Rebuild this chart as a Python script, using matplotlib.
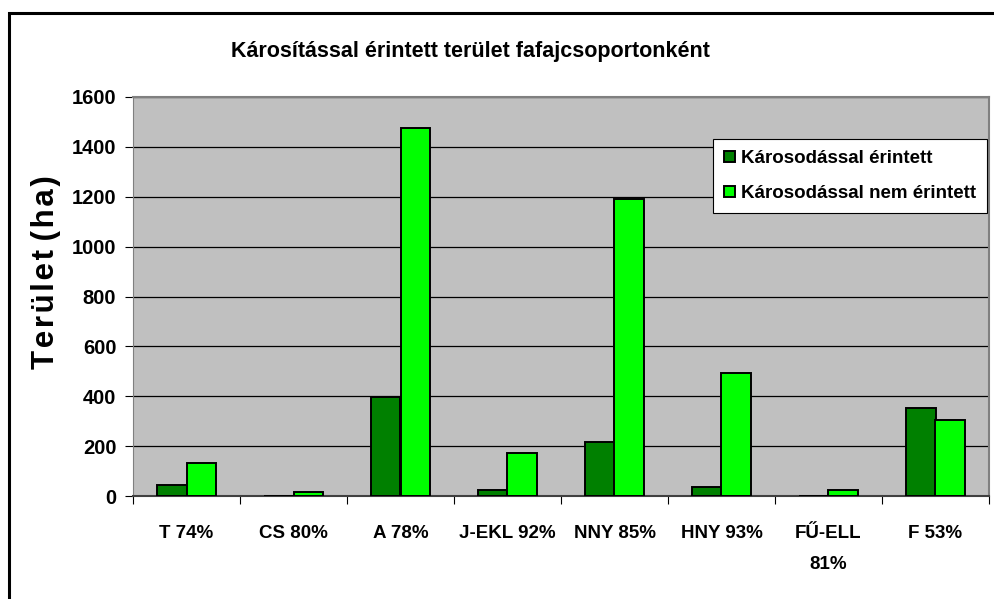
import numpy as np
import matplotlib.pyplot as plt
from matplotlib.patches import Rectangle

plt.rcParams['font.family'] = ['Liberation Sans', 'DejaVu Sans']
plt.rcParams['font.weight'] = 'bold'

categories = ['T 74%', 'CS 80%', 'A 78%', 'J-EKL 92%', 'NNY 85%', 'HNY 93%', 'FŰ-ELL\n81%', 'F 53%']
erintett = [46, 0, 397, 23, 218, 38, 0, 352]
nem_erintett = [134, 15, 1475, 172, 1190, 492, 24, 305]

W, H = 994, 599
fig = plt.figure(figsize=(W / 100, H / 100), dpi=100)
ax = fig.add_axes([133 / W, 1 - 496 / H, (989 - 133) / W, (496 - 97) / H])

# outer chart frame (cut off at right and bottom)
fig.patches.append(Rectangle((9 / W, -0.1), 1.2, 1 - 13 / H + 0.1, transform=fig.transFigure,
                             fill=False, edgecolor='black', linewidth=2.2))

x = np.arange(len(categories))
bw = 0.28
ax.set_facecolor('#C0C0C0')
ax.bar(x - bw / 2, erintett, bw, color='#008000', edgecolor='black', linewidth=1.4,
       label='Károsodással érintett', zorder=3)
ax.bar(x + bw / 2, nem_erintett, bw, color='#00FF00', edgecolor='black', linewidth=1.4,
       label='Károsodással nem érintett', zorder=3)

ax.set_xlim(-0.5, len(categories) - 0.5)
ax.set_ylim(0, 1600)
ax.set_yticks(range(0, 1601, 200))
ax.yaxis.grid(True, color='black', linewidth=0.9, zorder=1)
ax.set_xticks(np.arange(len(categories) + 1) - 0.5, minor=False)
ax.set_xticklabels([])
ax.set_xticks(x, minor=True)
ax.set_xticklabels(categories, minor=True, fontsize=13.5, fontweight='bold', linespacing=2.05)
ax.tick_params(axis='x', which='minor', length=0, pad=21)
ax.tick_params(axis='x', which='major', length=6, color='black')
ax.tick_params(axis='y', length=6, labelsize=14.5, pad=6)
for lbl in ax.get_yticklabels():
    lbl.set_fontweight('bold')

for side in ['top', 'right']:
    ax.spines[side].set_color('#808080')
    ax.spines[side].set_linewidth(1.5)
ax.spines['left'].set_color('#808080')
ax.spines['bottom'].set_color('#404040')
ax.spines['bottom'].set_linewidth(1.5)

# letter-spaced axis title, as in the original
ylab = '\u200a'.join('Terület') + ' ' + '\u200a'.join('(ha)')
ax.set_ylabel(ylab, fontsize=22.5, fontweight='bold')
ax.yaxis.set_label_coords((61 - 133) / (989 - 133), (496 - 272) / (496 - 97))

fig.text(470 / W, 1 - 52 / H, 'Károsítással érintett terület fafajcsoportonként',
         ha='center', va='center', fontsize=15.5, fontweight='bold')

leg = ax.legend(loc='upper left', bbox_to_anchor=((713 - 133) / (989 - 133), (496 - 139) / (496 - 97)),
                fancybox=False, framealpha=1, edgecolor='black', fontsize=13.5,
                handlelength=0.55, handleheight=0.55, handletextpad=0.35, borderpad=0.6,
                labelspacing=0.95, borderaxespad=0)
leg.get_frame().set_linewidth(0.8)
for t in leg.get_texts():
    t.set_fontweight('bold')

fig.savefig('out.png', dpi=100)
